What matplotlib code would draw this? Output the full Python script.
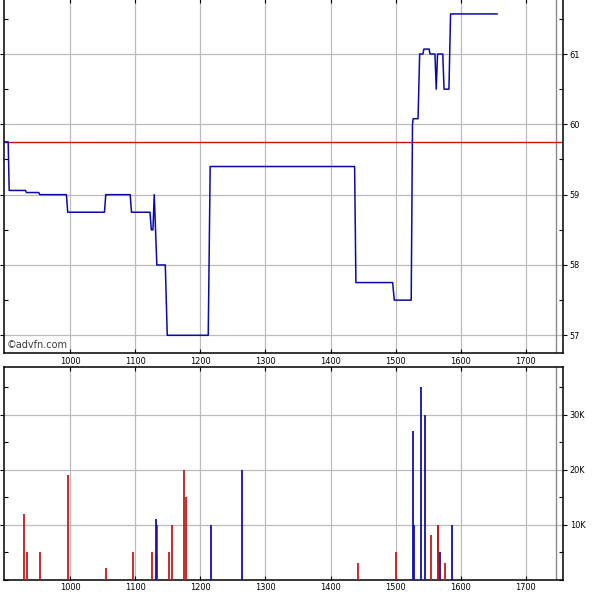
import matplotlib
matplotlib.use("Agg")
import matplotlib.pyplot as plt
from matplotlib.ticker import MultipleLocator, FuncFormatter

plt.rcParams['font.family'] = ['DejaVu Sans']

# ---- data ----
price_x = [898, 904.5, 906, 931, 932.5, 951.5, 953, 994, 996, 1052.5, 1054.5,
           1092, 1094, 1122.5, 1124.5, 1127, 1129, 1133, 1146, 1149, 1212,
           1215, 1437, 1439, 1495.5, 1498, 1524, 1526, 1527, 1534.5, 1537,
           1542, 1543.5, 1551.5, 1553, 1560.5, 1562.5, 1564.5, 1572.5,
           1574.5, 1582, 1584.5, 1656]
price_y = [59.75, 59.75, 59.06, 59.06, 59.03, 59.03, 59.0, 59.0, 58.75, 58.75, 59.0,
           59.0, 58.75, 58.75, 58.5, 58.5, 59.0, 58.0, 58.0, 57.0, 57.0,
           59.4, 59.4, 57.75, 57.75, 57.5, 57.5, 60.0, 60.08, 60.08, 61.0,
           61.0, 61.07, 61.07, 61.0, 61.0, 60.5, 61.0, 61.0,
           60.5, 60.5, 61.57, 61.57]
ref_price = 59.75

vol_red_x = [929, 934, 954, 997, 1055.5, 1096, 1126, 1133, 1134, 1151, 1157,
             1174, 1178.5, 1441.5, 1500.5, 1555, 1564.5, 1565.5, 1576.5]
vol_red = [12, 5, 5, 19.1, 2.1, 5, 5, 4.1, 10, 5, 10,
           20, 15, 3.1, 5, 8.1, 10, 10, 3]
vol_blue_x = [1131, 1217, 1264.5, 1527.5, 1529, 1538.5, 1544.5, 1567.5, 1586.5]
vol_blue = [11, 10, 20, 27.1, 10, 35, 30, 5, 10]

xticks = [1000, 1100, 1200, 1300, 1400, 1500, 1600, 1700]
price_ticks = [57, 58, 59, 60, 61]
vol_ticks = [10, 20, 30]

# ---- figure ----
W, H = 601, 595
fig = plt.figure(figsize=(W / 100, H / 100), dpi=100)

def frac(x0, y0, x1, y1):
    return [x0 / W, 1 - y1 / H, (x1 - x0) / W, (y1 - y0) / H]

ax1 = fig.add_axes(frac(3.7, -1, 563.3, 353.3))
ax2 = fig.add_axes(frac(3.7, 367.3, 563.3, 580))

grid_c = '#bcbcbc'
fs = 5.9
for ax in (ax1, ax2):
    ax.set_xlim(897.6, 1757.8)
    ax.set_xticks(xticks)
    ax.grid(True, color=grid_c, lw=0.9)
    ax.set_axisbelow(True)
    for s in ax.spines.values():
        s.set_linewidth(1.1)
        s.set_color('black')
    ax.axvline(1746, color='#8a8a8a', lw=1.0, zorder=1)
    ax.yaxis.tick_right()
    ax.tick_params(axis='y', which='major', direction='out', length=3, width=0.8,
                   labelsize=fs, pad=1.5, left=True, right=True)
    ax.tick_params(axis='y', which='minor', direction='in', length=3, width=0.8,
                   left=True, right=True)
    ax.tick_params(axis='x', which='major', direction='in', length=3, width=0.8,
                   labelsize=fs, pad=2.5, top=True)

# top panel
ax1.set_ylim(56.744, 61.768 + 1 / 70.33)
ax1.set_yticks(price_ticks)
ax1.yaxis.set_minor_locator(MultipleLocator(0.5))
ax1.yaxis.set_major_formatter(FuncFormatter(lambda v, p: f"{v:.0f}"))
ax1.axhline(ref_price, color='#cc1111', lw=1.0, zorder=2)
ax1.plot(price_x, price_y, color='#0a0aa8', lw=1.1, zorder=3)
fig.text(7 / W, 1 - 345 / H, '©advfn.com', fontsize=7.0, color='#3a3a3a',
         va='center', ha='left')

# bottom panel
ax2.set_ylim(0, 38.6)
ax2.set_yticks(vol_ticks)
ax2.yaxis.set_minor_locator(MultipleLocator(5))
ax2.yaxis.set_major_formatter(FuncFormatter(lambda v, p: f"{v:.0f}K"))
ax2.vlines(vol_red_x, 0, vol_red, colors='#c41a1a', lw=1.3, zorder=3)
ax2.vlines(vol_blue_x, 0, vol_blue, colors='#1010b0', lw=1.3, zorder=3)

fig.savefig('out.png', dpi=100, facecolor='white')
